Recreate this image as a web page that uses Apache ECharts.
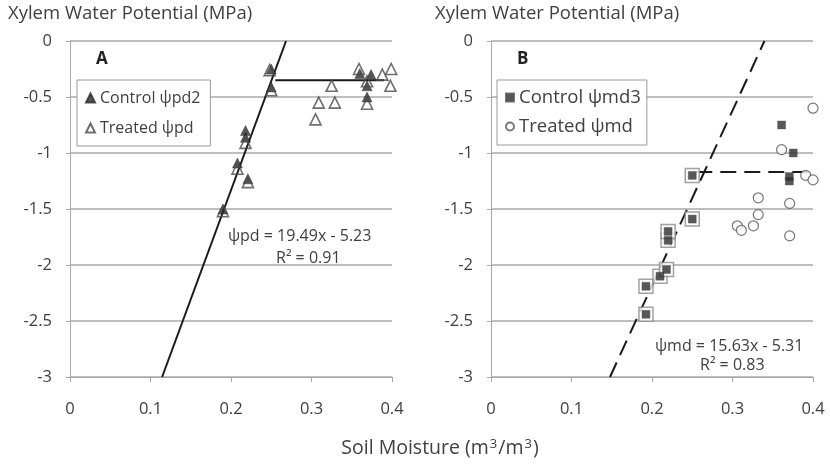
<!DOCTYPE html>
<html>
<head>
<meta charset="utf-8">
<script src="https://cdn.jsdelivr.net/npm/echarts@6/dist/echarts.min.js"></script>
<style>
  html, body { margin: 0; padding: 0; background: #fff; }
  #chart { width: 830px; height: 464px; }
</style>
</head>
<body>
<div id="chart"></div>
<script>
// Panel A: predawn xylem water potential vs soil moisture
const controlA = [[0.25,-0.25],[0.25,-0.41],[0.218,-0.80],[0.218,-0.86],[0.208,-1.09],[0.221,-1.23],[0.19,-1.50],
                  [0.36,-0.29],[0.374,-0.30],[0.369,-0.40],[0.369,-0.50]];
const treatedA = [[0.248,-0.26],[0.25,-0.44],[0.218,-0.91],[0.208,-1.14],[0.221,-1.26],[0.19,-1.52],
                  [0.359,-0.25],[0.388,-0.30],[0.399,-0.25],[0.369,-0.36],[0.398,-0.40],[0.325,-0.40],
                  [0.369,-0.56],[0.309,-0.55],[0.329,-0.55],[0.305,-0.70]];
const fitA = { slope: 19.49, intercept: -5.23, r2: 0.91 };
const plateauA = { y: -0.35, x0: 0.255, x1: 0.39 };

// Panel B: midday xylem water potential vs soil moisture
const controlB = [[0.1925,-2.44],[0.1925,-2.19],[0.21,-2.10],[0.218,-2.04],[0.22,-1.78],[0.22,-1.70],[0.25,-1.59],[0.25,-1.20],
                  [0.361,-0.75],[0.3755,-1.00],[0.3706,-1.21],[0.3706,-1.25]];
const treatedB = [[0.400,-0.60],[0.361,-0.97],[0.401,-1.05],[0.391,-1.20],[0.400,-1.24],[0.332,-1.40],
                  [0.371,-1.45],[0.332,-1.55],[0.306,-1.65],[0.311,-1.69],[0.326,-1.65],[0.371,-1.74]];
const fitB = { slope: 15.63, intercept: -5.31, r2: 0.83 };
const plateauB = { y: -1.17, x0: 0.255, x1: 0.40 };

const xTicks = [0, 0.1, 0.2, 0.3, 0.4];
const yTicks = [0, -0.5, -1, -1.5, -2, -2.5, -3];

const FONT = '"Open Sans", "Noto Sans", sans-serif';
const TXT = '#404040';
const GRID = '#a8a8a8';

// regression line endpoints from slope/intercept across the y range
function fitLine(f) {
  const yMin = yTicks[yTicks.length - 1], yMax = yTicks[0];
  return [[(yMin - f.intercept) / f.slope, yMin], [(yMax - f.intercept) / f.slope, yMax]];
}

function xAxis(gridIndex) {
  return {
    gridIndex, type: 'value', min: xTicks[0], max: xTicks[xTicks.length - 1], interval: 0.1,
    axisLine: { show: true, onZero: false, lineStyle: { color: GRID, width: 1 } },
    axisTick: { show: true, length: 5, lineStyle: { color: GRID } },
    splitLine: { show: false },
    axisLabel: { color: TXT, fontFamily: FONT, fontSize: 16.5, margin: 24, formatter: v => String(+v.toFixed(1)) }
  };
}
function yAxis(gridIndex) {
  return {
    gridIndex, type: 'value', min: yTicks[yTicks.length - 1], max: yTicks[0], interval: 0.5,
    axisLine: { show: true, lineStyle: { color: GRID, width: 1 } },
    axisTick: { show: true, length: 4, lineStyle: { color: GRID } },
    splitLine: { show: true, lineStyle: { color: GRID, width: 1.5 } },
    axisLabel: { color: TXT, fontFamily: FONT, fontSize: 16.5, margin: 18, formatter: v => String(+v.toFixed(1)) }
  };
}

const chart = echarts.init(document.getElementById('chart'), null, { renderer: 'canvas' });

const option = {
  animation: false,
  backgroundColor: '#fff',
  grid: [
    { left: 70, top: 41, width: 322, height: 336 },
    { left: 491, top: 41, width: 322, height: 336 }
  ],
  xAxis: [xAxis(0), xAxis(1)],
  yAxis: [yAxis(0), yAxis(1)],
  legend: [
    {
      left: 77, top: 80, orient: 'vertical', itemGap: 14, itemWidth: 9, itemHeight: 9,
      padding: [10, 10, 10, 8],
      backgroundColor: '#fff', borderColor: '#9a9a9a', borderWidth: 1,
      textStyle: { color: TXT, fontFamily: FONT, fontSize: 16 },
      data: ['Control ψpd2', 'Treated ψpd']
    },
    {
      left: 497, top: 80, orient: 'vertical', itemGap: 10, itemWidth: 8, itemHeight: 8,
      padding: [8, 6, 9, 8],
      backgroundColor: '#fff', borderColor: '#9a9a9a', borderWidth: 1,
      textStyle: { color: TXT, fontFamily: FONT, fontSize: 18.5 },
      data: ['Control ψmd3', 'Treated ψmd']
    }
  ],
  series: [
    // Panel A
    {
      name: 'fitA', type: 'line', xAxisIndex: 0, yAxisIndex: 0, data: fitLine(fitA),
      symbol: 'none', silent: true, lineStyle: { color: '#1a1a1a', width: 2 }, z: 3
    },
    {
      name: 'plateauA', type: 'line', xAxisIndex: 0, yAxisIndex: 0,
      data: [[plateauA.x0, plateauA.y], [plateauA.x1, plateauA.y]],
      symbol: 'none', silent: true, lineStyle: { color: '#1a1a1a', width: 2 }, z: 3
    },
    {
      name: 'Control ψpd2', type: 'scatter', xAxisIndex: 0, yAxisIndex: 0, data: controlA,
      symbol: 'triangle', symbolSize: 10, itemStyle: { color: '#2b2b2b', borderColor: '#2b2b2b', borderWidth: 0.5 }, z: 4
    },
    {
      name: 'Treated ψpd', type: 'scatter', xAxisIndex: 0, yAxisIndex: 0, data: treatedA,
      symbol: 'triangle', symbolSize: 11, itemStyle: { color: 'rgba(255,255,255,0)', borderColor: '#4a4a4a', borderWidth: 1.6 }, z: 5
    },
    // Panel B
    {
      name: 'fitB', type: 'line', xAxisIndex: 1, yAxisIndex: 1, data: fitLine(fitB),
      symbol: 'none', silent: true, lineStyle: { color: '#1a1a1a', width: 2, type: [16, 8] }, z: 3
    },
    {
      name: 'plateauB', type: 'line', xAxisIndex: 1, yAxisIndex: 1,
      data: [[plateauB.x0, plateauB.y], [plateauB.x1, plateauB.y]],
      symbol: 'none', silent: true, lineStyle: { color: '#1a1a1a', width: 2, type: [16, 8] }, z: 3
    },
    {
      // outline around the control points used in the regression
      name: 'fitPointsB', type: 'scatter', xAxisIndex: 1, yAxisIndex: 1,
      data: controlB.filter(p => p[0] <= 0.25), silent: true,
      symbol: 'rect', symbolSize: 14, itemStyle: { color: '#fff', borderColor: '#8a8a8a', borderWidth: 1.5 }, z: 4
    },
    {
      name: 'Control ψmd3', type: 'scatter', xAxisIndex: 1, yAxisIndex: 1, data: controlB,
      symbol: 'rect', symbolSize: 8, itemStyle: { color: '#2e2e2e', borderColor: '#555', borderWidth: 0.5 }, z: 5
    },
    {
      name: 'Treated ψmd', type: 'scatter', xAxisIndex: 1, yAxisIndex: 1, data: treatedB,
      symbol: 'circle', symbolSize: 10, itemStyle: { color: '#fff', borderColor: '#555', borderWidth: 1.2 }, z: 5
    }
  ],
  graphic: [
    { type: 'text', left: 8, top: 4, style: { text: 'Xylem Water Potential (MPa)', fill: TXT, font: '18.5px ' + FONT } },
    { type: 'text', left: 435, top: 4, style: { text: 'Xylem Water Potential (MPa)', fill: TXT, font: '18.5px ' + FONT } },
    { type: 'text', left: 96, top: 51, style: { text: 'A', fill: '#222', font: 'bold 17px ' + FONT } },
    { type: 'text', left: 517, top: 51, style: { text: 'B', fill: '#222', font: 'bold 17px ' + FONT } },
    { type: 'text', left: 228, top: 228, style: { text: 'ψpd = ' + fitA.slope + 'x - ' + Math.abs(fitA.intercept), fill: TXT, font: '16px ' + FONT } },
    { type: 'text', left: 276, top: 250, style: { text: 'R² = ' + fitA.r2, fill: TXT, font: '16px ' + FONT } },
    { type: 'text', left: 655, top: 338, style: { text: 'ψmd = ' + fitB.slope + 'x - ' + Math.abs(fitB.intercept), fill: TXT, font: '16px ' + FONT } },
    { type: 'text', left: 700, top: 357, style: { text: 'R² = ' + fitB.r2, fill: TXT, font: '16px ' + FONT } },
    {
      type: 'text', x: 440, y: 448,
      style: {
        text: '{b|Soil Moisture (m}{s|3}{b|/m}{s|3}{b|)}',
        fill: TXT, textAlign: 'center', textVerticalAlign: 'middle',
        rich: {
          b: { fontFamily: FONT, fontSize: 19.5, fill: TXT, verticalAlign: 'middle', lineHeight: 22 },
          s: { fontFamily: FONT, fontSize: 13, fill: TXT, verticalAlign: 'top', lineHeight: 22, padding: [1, 1, 0, 1] }
        }
      }
    }
  ]
};

chart.setOption(option);
</script>
</body>
</html>
